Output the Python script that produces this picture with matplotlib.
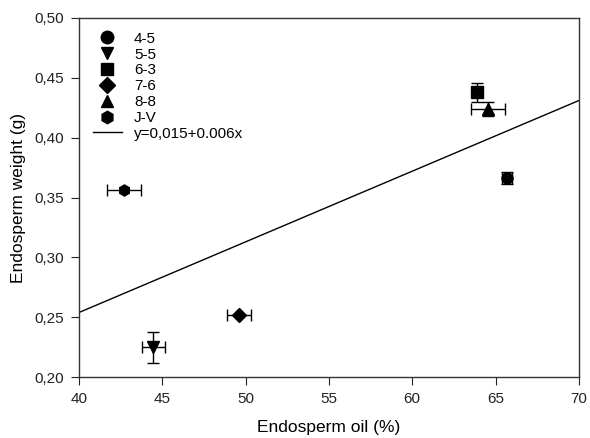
import matplotlib.pyplot as plt
from matplotlib.lines import Line2D

plt.rcParams['font.family'] = ['Liberation Sans', 'DejaVu Sans']

# ── DATA ─────────────────────────────────────────────────────────────────────
labels = ["4-5", "5-5", "6-3", "7-6", "8-8", "J-V"]
markers = ["o", "v", "s", "D", "^", "h"]
oil = [65.7, 44.45, 63.9, 49.6, 64.55, 42.7]
oil_err = [0.3, 0.7, 0.0, 0.7, 1.05, 1.0]
weight = [0.366, 0.225, 0.438, 0.252, 0.424, 0.356]
weight_err = [0.005, 0.013, 0.008, 0.0, 0.006, 0.0]

fit_x = [40, 70]
fit_y = [0.254, 0.431]
fit_label = "y=0,015+0.006x"

# ── PLOT ─────────────────────────────────────────────────────────────────────
fig = plt.figure(figsize=(5.9, 4.38), dpi=100)
ax = fig.add_axes([0.134, 0.139, 0.847, 0.82])

handles = []
for lab, m, x, xe, y, ye in zip(labels, markers, oil, oil_err, weight, weight_err):
    ms = 8 if m != 'D' else 7
    ax.errorbar(x, y, xerr=xe if xe else None, yerr=ye if ye else None,
                fmt=m, color='black', ms=ms, capsize=4,
                elinewidth=1, capthick=1)
    handles.append(Line2D([], [], marker=m, ls='none', color='black',
                          ms=ms + 1, label=lab))

fit, = ax.plot(fit_x, fit_y, color='black', lw=1, label=fit_label)
handles.append(fit)

ax.set_xlim(40, 70)
ax.set_ylim(0.20, 0.50)
ax.set_xticks(range(40, 71, 5))
ax.set_yticks([0.20, 0.25, 0.30, 0.35, 0.40, 0.45, 0.50])
ax.set_yticklabels(["0,20", "0,25", "0,30", "0,35", "0,40", "0,45", "0,50"])
ax.tick_params(direction='out', length=6, pad=5, labelsize=11, colors='#222222')
for s in ax.spines.values():
    s.set_linewidth(1)
    s.set_color('#333333')

ax.set_xlabel("Endosperm oil (%)", fontsize=12.5, labelpad=10)
ax.set_ylabel("Endosperm weight (g)", fontsize=12.5, labelpad=6)

ax.legend(handles=handles, loc='upper left', frameon=False, fontsize=11,
          handlelength=1.9, borderaxespad=0.5, labelspacing=0.12,
          handletextpad=0.8, bbox_to_anchor=(0.0, 1.0))

fig.savefig("out.png", dpi=100)
